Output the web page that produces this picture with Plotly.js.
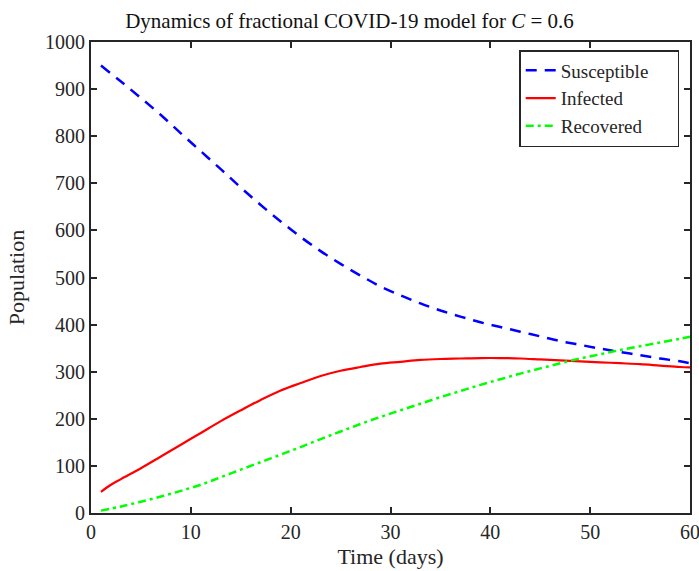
<!DOCTYPE html>
<html>
<head>
<meta charset="utf-8">
<script src="https://cdn.plot.ly/plotly-3.0.1.min.js"></script>
<style>html,body{margin:0;padding:0;background:#fff;}#chart{width:699px;height:571px;}</style>
</head>
<body>
<div id="chart"></div>
<script>
const tS = [1,3,5,7,9,11,13,15,17,19,21,23,25,27,29,31,33,35,37,39,41,43,45,47,49,51,53,55,57,59,60];
const susceptible = [950,916,881,845,806,768,730,691,654,619,586,556,529,504,481,462,445,430,417,405,395,385,375,365,357,349,342,335,328,322,318];

const tI = [1,2,3,5,7,9,11,13,15,17,19,21,23,25,27,29,31,33,35,37,39,41,43,45,47,49,51,53,55,57,59,60];
const infected = [45,60,72,95,120,145,170,195,218,240,260,276,291,302,310,317,321,325,327,328,329,329,328,326,324,322,320,318,316,313,310,309];

const tR = [1,3,5,7,9,11,13,15,17,19,21,23,25,27,29,31,33,35,37,39,41,43,45,47,49,51,53,55,57,59,60];
const recovered = [5,14,24,35,47,60,76,92,108,124,140,157,173,189,204,218,232,246,259,272,284,296,307,318,328,337,346,354,362,370,374];

const seriesNames = ['Susceptible', 'Infected', 'Recovered'];

const axisColor = '#262626';
const fontFam = '"Liberation Serif", "Times New Roman", serif';
const pad = '\u00a0\u00a0\u00a0\u00a0\u00a0';

const traces = [
  {x: tS, y: susceptible, name: seriesNames[0] + pad, mode: 'lines', line: {color: '#0000ff', width: 2.5, dash: '11px,8px', shape: 'spline'}},
  {x: tI, y: infected, name: seriesNames[1], mode: 'lines', line: {color: '#ff0000', width: 2.2, shape: 'spline'}},
  {x: tR, y: recovered, name: seriesNames[2], mode: 'lines', line: {color: '#00ff00', width: 2.5, dash: '8px,4px,3px,4px', shape: 'spline'}}
];

const layout = {
  width: 699, height: 571,
  margin: {l: 91, r: 9, t: 42, b: 58},
  paper_bgcolor: '#ffffff', plot_bgcolor: '#ffffff',
  font: {family: fontFam, size: 20, color: '#262626'},
  title: {text: 'Dynamics of fractional COVID-19 model for <i>C</i> = 0.6', x: 0.5, xanchor: 'center', y: 0.963, yanchor: 'middle', font: {family: fontFam, size: 21, color: '#111'}},
  xaxis: {
    range: [0, 60], tickvals: [0,10,20,30,40,50,60], showgrid: false, zeroline: false,
    showline: true, linecolor: axisColor, linewidth: 2, mirror: 'ticks',
    ticks: 'inside', ticklen: 6, tickwidth: 2, tickcolor: axisColor,
    ticklabeloverflow: 'allow',
    tickfont: {family: fontFam, size: 20, color: '#262626'},
    title: {text: 'Time (days)', font: {family: fontFam, size: 22, color: '#262626'}, standoff: 7}
  },
  yaxis: {
    range: [0, 1000], dtick: 100, showgrid: false, zeroline: false,
    showline: true, linecolor: axisColor, linewidth: 2, mirror: 'ticks',
    ticks: 'inside', ticklen: 6, tickwidth: 2, tickcolor: axisColor,
    ticklabeloverflow: 'allow',
    tickfont: {family: fontFam, size: 20, color: '#262626'},
    title: {text: 'Population', font: {family: fontFam, size: 22, color: '#262626'}, standoff: 14}
  },
  legend: {
    x: 0.982, xanchor: 'right', y: 0.983, yanchor: 'top',
    bgcolor: '#ffffff', bordercolor: axisColor, borderwidth: 1.5,
    font: {family: fontFam, size: 19, color: '#262626'},
    tracegroupgap: 0
  },
  showlegend: true
};

Plotly.newPlot('chart', traces, layout, {staticPlot: true, displayModeBar: false});
</script>
</body>
</html>
